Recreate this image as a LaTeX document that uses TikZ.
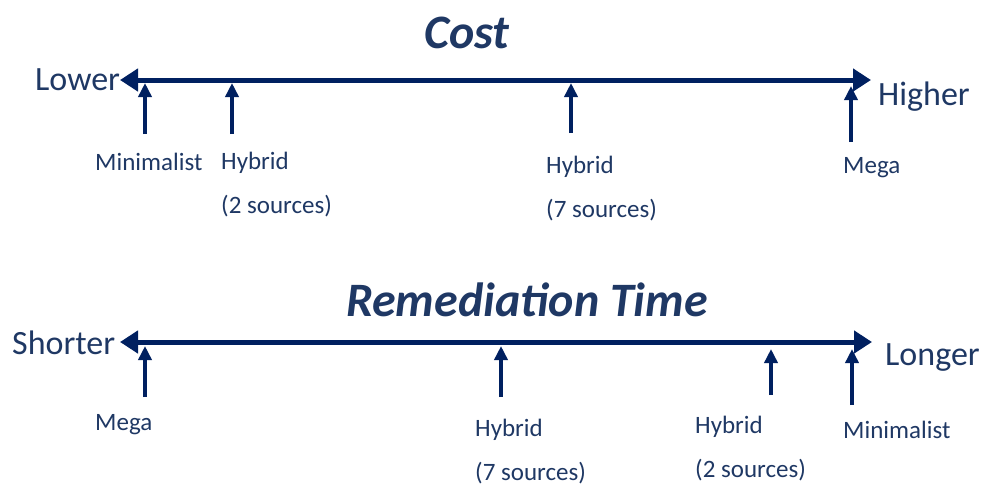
\documentclass[tikz,border=0pt]{standalone}
\usepackage{fontspec}
\setmainfont{Carlito}
\usetikzlibrary{arrows.meta}
\definecolor{navy}{HTML}{002060}
\definecolor{txt}{HTML}{1F3864}
\begin{document}
\begin{tikzpicture}[x=1pt,y=-1pt,
  axis/.style={draw=navy,line width=5pt,{Triangle[length=18pt,width=22pt]}-{Triangle[length=18pt,width=22pt]}},
  tick/.style={draw=navy,line width=3.6pt,-{Triangle[length=14pt,width=13pt]}},
  title/.style={text=txt,font=\fontsize{48}{52}\selectfont\bfseries\itshape,inner sep=0pt},
  endlbl/.style={text=txt,font=\fontsize{34}{38}\selectfont,inner sep=0pt,anchor=west},
  lbl/.style={text=txt,font=\fontsize{25}{44}\selectfont,inner sep=0pt,anchor=west,align=left}]
\useasboundingbox (0,0) rectangle (984,490);
% ---- Cost ----
\node[title] (cost) at (467,33) {Cost};
\coordinate (cL) at (120,80);
\coordinate (cR) at (871,80);
\draw[axis] (cL) -- (cR);
\node[endlbl] (lower) at (35,80) {Lower};
\node[endlbl] (higher) at (878,97) {Higher};
\coordinate (t1b) at (145,134); \coordinate (t1t) at (145,83);
\coordinate (t2b) at (232,134); \coordinate (t2t) at (232,83);
\coordinate (t3b) at (571,133); \coordinate (t3t) at (571,83);
\coordinate (t4b) at (851,142); \coordinate (t4t) at (851,86);
\draw[tick] (t1b) -- (t1t);
\draw[tick] (t2b) -- (t2t);
\draw[tick] (t3b) -- (t3t);
\draw[tick] (t4b) -- (t4t);
\node[lbl] (minc) at (95,162) {Minimalist};
\node[lbl] (h2c) at (221,185) {Hybrid\\(2 sources)};
\node[lbl] (h7c) at (546,189) {Hybrid\\(7 sources)};
\node[lbl] (megac) at (843,168) {Mega};
% ---- Remediation Time ----
\node[title] (rt) at (527,300) {Remediation Time};
\coordinate (rL) at (120,342);
\coordinate (rR) at (872,342);
\draw[axis] (rL) -- (rR);
\node[endlbl] (shorter) at (12,343) {Shorter};
\node[endlbl] (longer) at (885,358) {Longer};
\coordinate (s1b) at (145,397); \coordinate (s1t) at (145,346);
\coordinate (s2b) at (501,397); \coordinate (s2t) at (501,346);
\coordinate (s3b) at (771,395); \coordinate (s3t) at (771,349);
\coordinate (s4b) at (852,405); \coordinate (s4t) at (852,349);
\draw[tick] (s1b) -- (s1t);
\draw[tick] (s2b) -- (s2t);
\draw[tick] (s3b) -- (s3t);
\draw[tick] (s4b) -- (s4t);
\node[lbl] (megar) at (95,425) {Mega};
\node[lbl] (h7r) at (475,452) {Hybrid\\(7 sources)};
\node[lbl] (h2r) at (695,449) {Hybrid\\(2 sources)};
\node[lbl] (minr) at (843,430) {Minimalist};
\end{tikzpicture}
\end{document}
